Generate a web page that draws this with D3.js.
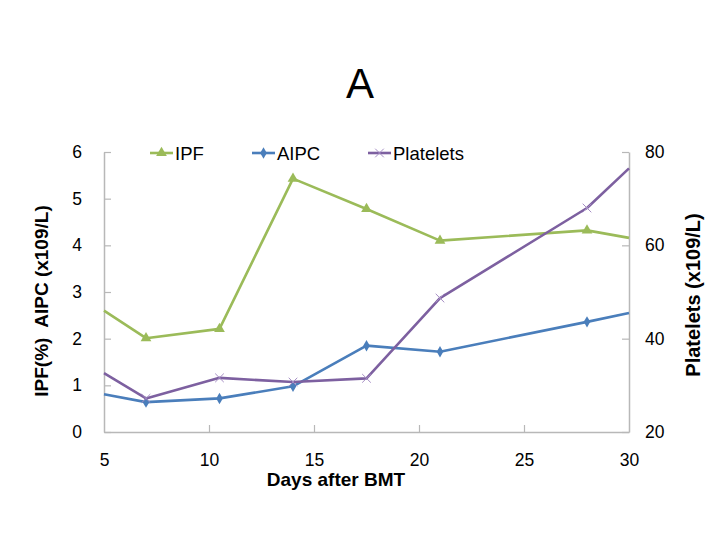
<!DOCTYPE html>
<html><head><meta charset="utf-8">
<script src="https://cdn.jsdelivr.net/npm/d3@7"></script>
<style>body{margin:0;background:#fff}svg{font-family:"Liberation Sans",Arial,sans-serif}</style>
</head><body><svg id="c" width="720" height="540"></svg>
<script>
const days = [5, 7, 10.5, 14, 17.5, 21, 28, 30];
const ipf = [2.6, 2.01, 2.21, 5.43, 4.78, 4.1, 4.32, 4.16];
const aipc = [0.81, 0.64, 0.72, 0.98, 1.85, 1.72, 2.36, 2.55];
const platelets = [32.6, 27.2, 31.6, 30.7, 31.5, 48.7, 68.0, 76.5];
const xTicks = [5, 10, 15, 20, 25, 30];
const yLeftTicks = [0, 1, 2, 3, 4, 5, 6];
const yRightTicks = [20, 40, 60, 80];

const svg = d3.select("#c");
const L = 104, R = 629, T = 152, B = 432;
const x = d3.scaleLinear().domain([5, 30]).range([L, R]);
const yL = d3.scaleLinear().domain([0, 6]).range([B, T]);
const yR = d3.scaleLinear().domain([20, 80]).range([B, T]);
const axisColor = "#b8b8b8";
const fmt = d3.format("d");

// axes
const gx = svg.append("g").attr("transform", `translate(0,${B})`)
  .call(d3.axisBottom(x).tickValues(xTicks).tickFormat(fmt).tickSizeInner(-7).tickSizeOuter(0).tickPadding(22));
const gl = svg.append("g").attr("transform", `translate(${L},0)`)
  .call(d3.axisLeft(yL).tickValues(yLeftTicks).tickFormat(fmt).tickSizeInner(-7).tickSizeOuter(0).tickPadding(22));
const gr = svg.append("g").attr("transform", `translate(${R},0)`)
  .call(d3.axisRight(yR).tickValues(yRightTicks).tickFormat(fmt).tickSizeInner(-7).tickSizeOuter(0).tickPadding(16));
[gx, gl, gr].forEach(g => {
  g.select(".domain").attr("stroke", axisColor).attr("stroke-width", 1.5);
  g.selectAll(".tick line").attr("stroke", axisColor).attr("stroke-width", 1.2);
  g.selectAll(".tick text").attr("font-size", 17.5).attr("fill", "#000")
    .attr("font-family", "Liberation Sans, Arial, sans-serif");
});
gx.selectAll(".tick line").filter(d => d === 5 || d === 30).remove();

const series = [
  {name: "IPF", vals: ipf, y: yL, color: "#9bbb59", marker: "tri"},
  {name: "AIPC", vals: aipc, y: yL, color: "#4a7ebb", marker: "dia"},
  {name: "Platelets", vals: platelets, y: yR, color: "#7d60a0", marker: "x"}
];

function marker(g, type, cx, cy, color) {
  if (type === "tri") {
    g.append("path").attr("d", d3.symbol(d3.symbolTriangle, 50)()).attr("transform", `translate(${cx},${cy})`).attr("fill", color);
  } else if (type === "dia") {
    g.append("path").attr("d", d3.symbol(d3.symbolDiamond, 38)()).attr("transform", `translate(${cx},${cy})`).attr("fill", color);
  } else {
    g.append("path").attr("d", d3.symbol(d3.symbolTimes, 50)()).attr("transform", `translate(${cx},${cy})`)
      .attr("fill", "none").attr("stroke", "#a58dc4").attr("stroke-width", 1);
  }
}

series.forEach(s => {
  const line = d3.line().x((d, i) => x(days[i])).y(d => s.y(d));
  svg.append("path").datum(s.vals).attr("d", line).attr("fill", "none")
    .attr("stroke", s.color).attr("stroke-width", 2.6).attr("stroke-linejoin", "round");
  const g = svg.append("g");
  s.vals.forEach((v, i) => {
    if (i === 0 || i === s.vals.length - 1) return;
    marker(g, s.marker, x(days[i]), s.y(v), s.color);
  });
});

// legend
const legX = [150, 252, 368];
series.forEach((s, i) => {
  const g = svg.append("g");
  g.append("line").attr("x1", legX[i]).attr("x2", legX[i] + 23).attr("y1", 153).attr("y2", 153)
    .attr("stroke", s.color).attr("stroke-width", 2.6);
  marker(g, s.marker, legX[i] + 11.5, 153, s.color);
  g.append("text").attr("x", legX[i] + 25).attr("y", 159.5).attr("font-size", 18.5).text(s.name);
});

// title
svg.append("text").attr("x", 360).attr("y", 98).attr("text-anchor", "middle")
  .attr("font-size", 42).text("A");

// axis titles
svg.append("text").attr("x", 336).attr("y", 486).attr("text-anchor", "middle")
  .attr("font-size", 19).attr("font-weight", "bold").text("Days after BMT");
svg.append("text").attr("transform", "translate(48,301) rotate(-90)").attr("text-anchor", "middle")
  .attr("font-size", 19).attr("font-weight", "bold").attr("xml:space", "preserve").text("IPF(%)  AIPC (x109/L)");
svg.append("text").attr("transform", "translate(700,295) rotate(-90)").attr("text-anchor", "middle")
  .attr("font-size", 20).attr("font-weight", "bold").text("Platelets (x109/L)");
</script></body></html>
